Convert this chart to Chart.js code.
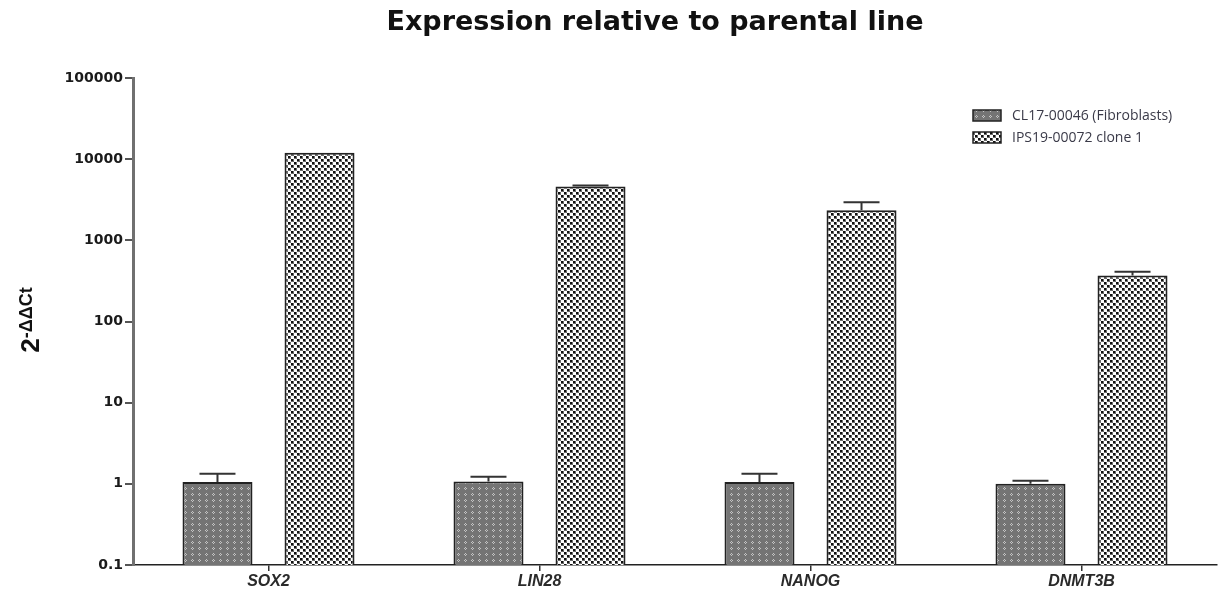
<!DOCTYPE html>
<html>
<head>
<meta charset="utf-8">
<script src="https://cdn.jsdelivr.net/npm/chart.js@4/dist/chart.umd.min.js"></script>
<style>
  html, body { margin: 0; padding: 0; background: #fff; }
  #wrap { width: 1225px; height: 592px; }
</style>
</head>
<body>
<div id="wrap"><canvas id="chart" width="1225" height="592"></canvas></div>
<script>
// data
let genes = ["SOX2", "LIN28", "NANOG", "DNMT3B"];
let yTicks = [0.1, 1, 10, 100, 1000, 10000, 100000];

let fibroLabel = "CL17-00046 (Fibroblasts)";
let fibroValues = [1.05, 1.07, 1.05, 1.0];
let fibroUpper = [1.33, 1.22, 1.33, 1.09];

let cloneLabel = "IPS19-00072 clone 1";
let cloneValues = [12000, 4600, 2350, 370];
let cloneUpper = [12000, 4750, 2950, 410];

// fill patterns
function makePattern(draw, w, h) {
  let c = document.createElement("canvas");
  c.width = w;
  c.height = h;
  draw(c.getContext("2d"));
  return c.getContext("2d").createPattern(c, "repeat");
}

let fibroPattern = makePattern(function(g) {
  g.fillStyle = "#747474";
  g.fillRect(0, 0, 7, 6);
  g.fillStyle = "#c4c4c4";
  g.fillRect(2, 2, 1, 1);
  g.fillRect(4, 2, 1, 1);
  g.fillRect(3, 1, 1, 1);
  g.fillRect(3, 3, 1, 1);
}, 7, 6);

let clonePattern = makePattern(function(g) {
  g.fillStyle = "#ffffff";
  g.fillRect(0, 0, 6, 6);
  g.fillStyle = "#111111";
  g.fillRect(0, 0, 3, 3);
  g.fillRect(3, 3, 3, 3);
  g.fillStyle = "#6a6a6a";
  g.fillRect(2, 0, 1, 3);
  g.fillRect(5, 3, 1, 3);
  g.fillRect(0, 2, 2, 1);
  g.fillRect(3, 5, 2, 1);
}, 6, 6);

let upperBounds = [fibroUpper, cloneUpper];

let extrasPlugin = {
  id: "extras",
  afterDatasetsDraw(chart) {
    let ctx = chart.ctx;
    let y = chart.scales.y;
    ctx.save();
    ctx.strokeStyle = "#333";
    ctx.lineWidth = 2;
    chart.data.datasets.forEach((ds, i) => {
      let meta = chart.getDatasetMeta(i);
      meta.data.forEach((bar, j) => {
        let top = y.getPixelForValue(ds.data[j]);
        let up = y.getPixelForValue(upperBounds[i][j]);
        if (top - up < 1) return;
        ctx.beginPath();
        ctx.moveTo(bar.x, top);
        ctx.lineTo(bar.x, up);
        ctx.moveTo(bar.x - 18, up);
        ctx.lineTo(bar.x + 18, up);
        ctx.stroke();
      });
    });
    ctx.restore();
  },
  afterDraw(chart) {
    let ctx = chart.ctx;
    ctx.save();
    // title
    ctx.fillStyle = "#111";
    ctx.font = "bold 27px 'DejaVu Sans'";
    ctx.textAlign = "center";
    ctx.textBaseline = "middle";
    ctx.fillText("Expression relative to parental line", 655, 23);

    // y axis title 2^-ΔΔCt
    ctx.translate(39, 320);
    ctx.rotate(-Math.PI / 2);
    ctx.textAlign = "left";
    ctx.textBaseline = "alphabetic";
    ctx.font = "bold 26px 'Liberation Sans'";
    let w2 = ctx.measureText("2").width;
    ctx.font = "bold 18px 'Liberation Sans'";
    let wSup = ctx.measureText("-\u0394\u0394Ct").width;
    let start = -(w2 + wSup) / 2;
    ctx.fillStyle = "#111";
    ctx.font = "bold 26px 'Liberation Sans'";
    ctx.fillText("2", start, 0);
    ctx.font = "bold 18px 'Liberation Sans'";
    ctx.fillText("-\u0394\u0394Ct", start + w2, -7);
    ctx.restore();

    // legend
    ctx.save();
    let items = [
      { label: fibroLabel, fill: fibroPattern, y: 110 },
      { label: cloneLabel, fill: clonePattern, y: 132 }
    ];
    ctx.font = "14px 'Open Sans'";
    ctx.textBaseline = "middle";
    items.forEach(it => {
      ctx.fillStyle = it.fill;
      ctx.fillRect(973, it.y, 28, 11);
      ctx.strokeStyle = "#222";
      ctx.lineWidth = 1.5;
      ctx.strokeRect(973, it.y, 28, 11);
      ctx.fillStyle = "#3a3a48";
      ctx.fillText(it.label, 1012, it.y + 6);
    });
    ctx.restore();
  }
};

new Chart(document.getElementById("chart"), {
  type: "bar",
  data: {
    labels: genes,
    datasets: [
      {
        label: fibroLabel,
        data: fibroValues,
        backgroundColor: fibroPattern,
        borderColor: "#222",
        borderWidth: 2
      },
      {
        label: cloneLabel,
        data: cloneValues,
        backgroundColor: clonePattern,
        borderColor: "#222",
        borderWidth: 2
      }
    ]
  },
  options: {
    responsive: false,
    devicePixelRatio: 1,
    animation: false,
    layout: { padding: { top: 78, right: 8, left: 0, bottom: 0 } },
    categoryPercentage: 0.753,
    barPercentage: 0.686,
    plugins: {
      legend: { display: false },
      title: { display: false },
      tooltip: { enabled: false }
    },
    scales: {
      x: {
        grid: {
          display: true,
          drawOnChartArea: false,
          drawTicks: true,
          tickLength: 6,
          offset: false,
          color: "#333",
          lineWidth: 1.5
        },
        border: { color: "#222", width: 1.5 },
        ticks: {
          color: "#2a2a2a",
          padding: 1,
          font: { family: "'Liberation Sans'", size: 16, weight: "bold", style: "italic" }
        },
        afterFit(s) { s.height = 27; }
      },
      y: {
        type: "logarithmic",
        min: 0.1,
        max: 100000,
        grid: {
          display: true,
          drawOnChartArea: false,
          drawTicks: true,
          tickLength: 8,
          color: "#555",
          lineWidth: 2
        },
        border: { color: "#707070", width: 3 },
        afterBuildTicks(s) {
          s.ticks = yTicks.map(v => ({ value: v }));
        },
        ticks: {
          color: "#1a1a1a",
          padding: 2,
          autoSkip: false,
          font: { family: "'DejaVu Sans'", size: 14, weight: "bold" },
          callback: v => String(v)
        },
        afterFit(s) { s.width = 133; }
      }
    }
  },
  plugins: [extrasPlugin]
});
</script>
</body>
</html>
